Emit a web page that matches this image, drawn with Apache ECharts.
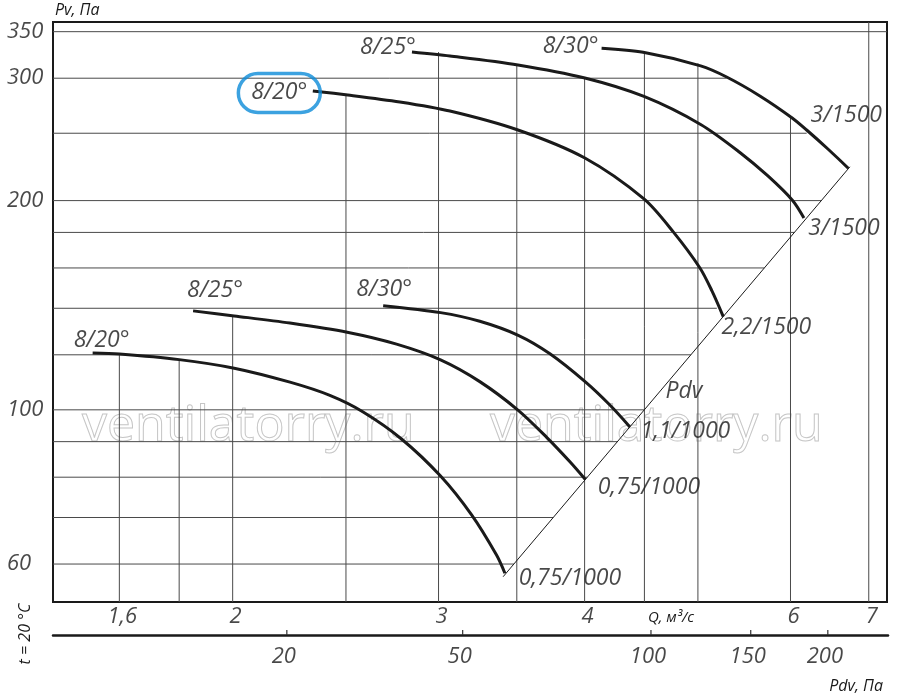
<!DOCTYPE html>
<html><head><meta charset="utf-8">
<script src="https://cdn.jsdelivr.net/npm/echarts@6/dist/echarts.min.js"></script>
<style>html,body{margin:0;padding:0;background:#fff}#c{width:900px;height:694px}</style>
</head><body><div id="c"></div>
<script>
// ---- axis ranges ----
const qRange = [1.404, 7.256];      // Q, m3/s (log)
const pRange = [52.91, 361.4];      // Pv, Pa (log)

// ---- tick labels ----
const qTickValues = [1.6, 2, 3, 4, 6, 7];
const qTickLabels = ['1,6', '2', '3', '4', '6', '7'];
const pTickValues = [350, 300, 200, 100, 60];
const pTickLabels = ['350', '300', '200', '100', '60'];
const pdvTickLabels = ['20', '50', '100', '150', '200'];
const pdvTickQ = [2.224, 3.143, 4.552, 5.539, 6.446];

// ---- grid lines (clipped by the curve envelope) ----
const gridQ = [1.6, 1.8, 2, 2.5, 3, 3.5, 4, 4.5, 5, 6, 7];
const gridQTopP = [120.3, 118.1, 136.5, 283.8, 327.2, 313.5, 301.2, 327.5, 315.2, 264.1, 361.4];
const gridP = [350, 300, 250, 200, 180, 160, 140, 120, 100, 90, 80, 70, 60];
const gridPEndQ = [7.256, 5.291, 6.194, 6.375, 6.046, 5.698, 5.19, 4.931, 4.499, 4.267, 4.022, 3.760, 3.480];

// ---- upper family curves ----
const hi820Q = [2.342, 2.509, 2.780, 3.068, 3.508, 4.002, 4.496, 4.763, 5.020, 5.140, 5.256];
const hi820P = [287.6, 283.8, 277.3, 269.1, 252.7, 230.3, 201.1, 180.3, 160.0, 148.3, 136.2];
const hi825Q = [2.847, 3.068, 3.508, 4.002, 4.496, 5.027, 5.431, 5.739, 6.025, 6.161];
const hi825P = [327.2, 322.9, 313.5, 300.2, 282.4, 257.4, 234.6, 217.0, 200.1, 188.8];
const hi830Q = [4.136, 4.489, 5.027, 5.291, 5.649, 6.020, 6.194, 6.459, 6.723];
const hi830P = [331.3, 326.9, 312.5, 301.2, 282.9, 263.0, 252.7, 237.3, 222.6];

// ---- lower family curves ----
const lo820Q = [1.518, 1.600, 1.800, 2.006, 2.239, 2.422, 2.586, 2.789, 3.012, 3.202, 3.363, 3.419];
const lo820P = [120.7, 120.3, 118.1, 114.8, 109.6, 104.9, 99.3, 90.8, 80.3, 70.6, 61.8, 58.2];
const lo825Q = [1.850, 2.006, 2.239, 2.506, 2.762, 3.012, 3.254, 3.510, 3.712, 3.886, 4.006];
const lo825P = [138.8, 136.5, 133.3, 129.3, 124.3, 118.0, 109.8, 99.85, 91.3, 84.2, 79.4];
const lo830Q = [2.690, 3.012, 3.254, 3.510, 3.736, 4.006, 4.204, 4.373];
const lo830P = [141.2, 138.0, 134.1, 128.0, 120.4, 109.7, 101.6, 94.5];

// ---- dynamic pressure line ----
const pdvLineQ = [3.407, 6.745];
const pdvLineP = [57.53, 223.7];

// ---- curve names ----
const curveStartNames = ['8/20°', '8/25°', '8/30°', '8/20°', '8/25°', '8/30°'];
const curveEndNames = ['2,2/1500', '3/1500', '3/1500', '0,75/1000', '0,75/1000', '1,1/1000'];

const FONT = "'Open Sans', 'DejaVu Sans', sans-serif";
const INK = '#1a1a1a';
const pts = (qs, ps) => qs.map((q, i) => [q, ps[i]]);

const curveDefs = [
  { q: hi820Q, p: hi820P, so: [-33.5, 2], eo: [43, 11], box: true },
  { q: hi825Q, p: hi825P, so: [-24, -5], eo: [40, 10] },
  { q: hi830Q, p: hi830P, so: [-31, -2], eo: [-2, -53] },
  { q: lo820Q, p: lo820P, so: [9, -13], eo: [65, 5] },
  { q: lo825Q, p: lo825P, so: [22, -20], eo: [63.5, 7.7] },
  { q: lo830Q, p: lo830P, so: [1, -16], eo: [55.5, 4.7] }
];

const series = [];
// vertical grid lines
gridQ.forEach((q, i) => series.push({
  type: 'line', silent: true, symbol: 'none', z: 1,
  data: [[q, pRange[0]], [q, gridQTopP[i]]],
  lineStyle: { color: '#4a4a4a', width: 1 }
}));
// horizontal grid lines
gridP.forEach((p, i) => series.push({
  type: 'line', silent: true, symbol: 'none', z: 1,
  data: [[qRange[0], p], [gridPEndQ[i], p]],
  lineStyle: { color: '#4a4a4a', width: 1 }
}));
// Pdv diagonal
series.push({
  type: 'line', silent: true, symbol: 'none', z: 2,
  data: pts(pdvLineQ, pdvLineP),
  lineStyle: { color: INK, width: 1 }
});
// characteristic curves
curveDefs.forEach(c => series.push({
  type: 'line', silent: true, symbol: 'none', smooth: 0.3, z: 3,
  data: pts(c.q, c.p),
  lineStyle: { color: INK, width: 3 }
}));

const baseLabel = { show: true, position: 'inside', color: INK, fontFamily: FONT, fontStyle: 'italic' };
// curve labels
const curveLabelItems = [];
curveDefs.forEach((c, i) => {
  const startLabel = Object.assign({}, baseLabel, { formatter: curveStartNames[i], offset: c.so, fontSize: 23 });
  if (c.box) Object.assign(startLabel, { borderColor: '#0b8bd8', borderWidth: 3.5, borderRadius: 20, padding: [8, 13, 7, 13], lineHeight: 24 });
  curveLabelItems.push({ value: [c.q[0], c.p[0]], label: startLabel });
  curveLabelItems.push({
    value: [c.q[c.q.length - 1], c.p[c.p.length - 1]],
    label: Object.assign({}, baseLabel, { formatter: curveEndNames[i], offset: c.eo, fontSize: 23 })
  });
});
curveLabelItems.push({
  value: [pdvLineQ[1], pdvLineP[1]],
  label: Object.assign({}, baseLabel, { formatter: 'Pdv', offset: [-166, 225], fontSize: 23 })
});
series.push({
  type: 'scatter', silent: true, clip: false, symbolSize: 1, z: 5,
  itemStyle: { color: 'transparent' }, data: curveLabelItems
});
// y tick labels
series.push({
  type: 'scatter', silent: true, clip: false, symbolSize: 1, z: 5,
  itemStyle: { color: 'transparent' },
  data: pTickValues.map((p, i) => ({ value: [qRange[0], p],
    label: Object.assign({}, baseLabel, { formatter: pTickLabels[i], align: 'left', offset: [-46, 0], fontSize: 22 }) }))
});
// x tick labels
series.push({
  type: 'scatter', silent: true, clip: false, symbolSize: 1, z: 5,
  itemStyle: { color: 'transparent' },
  data: qTickValues.map((q, i) => ({ value: [q, pRange[0]],
    label: Object.assign({}, baseLabel, { formatter: qTickLabels[i], offset: [3, 15], fontSize: 22 }) }))
});
// Pdv axis ticks and labels (second grid)
pdvTickQ.forEach(q => series.push({
  type: 'line', silent: true, symbol: 'none', xAxisIndex: 1, yAxisIndex: 1,
  data: [[q, 0], [q, 5]], lineStyle: { color: '#333', width: 1.2 }
}));
series.push({
  type: 'scatter', silent: true, clip: false, symbolSize: 1, xAxisIndex: 1, yAxisIndex: 1,
  itemStyle: { color: 'transparent' },
  data: pdvTickQ.map((q, i) => ({ value: [q, 0],
    label: Object.assign({}, baseLabel, { formatter: pdvTickLabels[i], offset: [-3, 21.7], fontSize: 22 }) }))
});

const hiddenAxis = { axisLine: { show: false }, axisTick: { show: false }, axisLabel: { show: false }, splitLine: { show: false } };

const chart = echarts.init(document.getElementById('c'), null, { renderer: 'canvas' });
chart.setOption({
  animation: false,
  backgroundColor: '#fff',
  grid: [
    { left: 53, top: 22, width: 834, height: 580, show: true, borderColor: INK, borderWidth: 2, backgroundColor: 'transparent' },
    { left: 53, top: 600, width: 835, height: 35, show: false }
  ],
  xAxis: [
    Object.assign({ type: 'log', gridIndex: 0, min: qRange[0], max: qRange[1] }, hiddenAxis),
    Object.assign({ type: 'log', gridIndex: 1, min: qRange[0], max: qRange[1] }, hiddenAxis,
      { axisLine: { show: true, onZero: false, lineStyle: { color: INK, width: 2.5 } } })
  ],
  yAxis: [
    Object.assign({ type: 'log', gridIndex: 0, min: pRange[0], max: pRange[1] }, hiddenAxis),
    Object.assign({ type: 'value', gridIndex: 1, min: 0, max: 35 }, hiddenAxis)
  ],
  graphic: [
    { type: 'text', x: 82, y: 427, silent: true, z: 0,
      style: { text: 'ventilatorry.ru', font: '50px ' + FONT, fill: 'rgba(0,0,0,0)', stroke: '#c6c6c6', lineWidth: 1, verticalAlign: 'middle', align: 'left' } },
    { type: 'text', x: 490, y: 427, silent: true, z: 0,
      style: { text: 'ventilatorry.ru', font: '50px ' + FONT, fill: 'rgba(0,0,0,0)', stroke: '#c6c6c6', lineWidth: 1, verticalAlign: 'middle', align: 'left' } },
    { type: 'text', x: 55, y: 10, silent: true,
      style: { text: 'Pv, Па', font: 'italic 16px ' + FONT, fill: INK, verticalAlign: 'middle', align: 'left' } },
    { type: 'text', x: 671, y: 618, silent: true,
      style: { text: 'Q, м³/с', font: 'italic 15px ' + FONT, fill: INK, verticalAlign: 'middle', align: 'center' } },
    { type: 'text', x: 883, y: 686, silent: true,
      style: { text: 'Pdv, Па', font: 'italic 16px ' + FONT, fill: INK, verticalAlign: 'middle', align: 'right' } },
    { type: 'text', x: 25, y: 634, rotation: Math.PI / 2, silent: true,
      style: { text: 't = 20 °C', font: 'italic 16px ' + FONT, fill: INK, verticalAlign: 'middle', align: 'center' } }
  ],
  series: series
});
</script></body></html>
